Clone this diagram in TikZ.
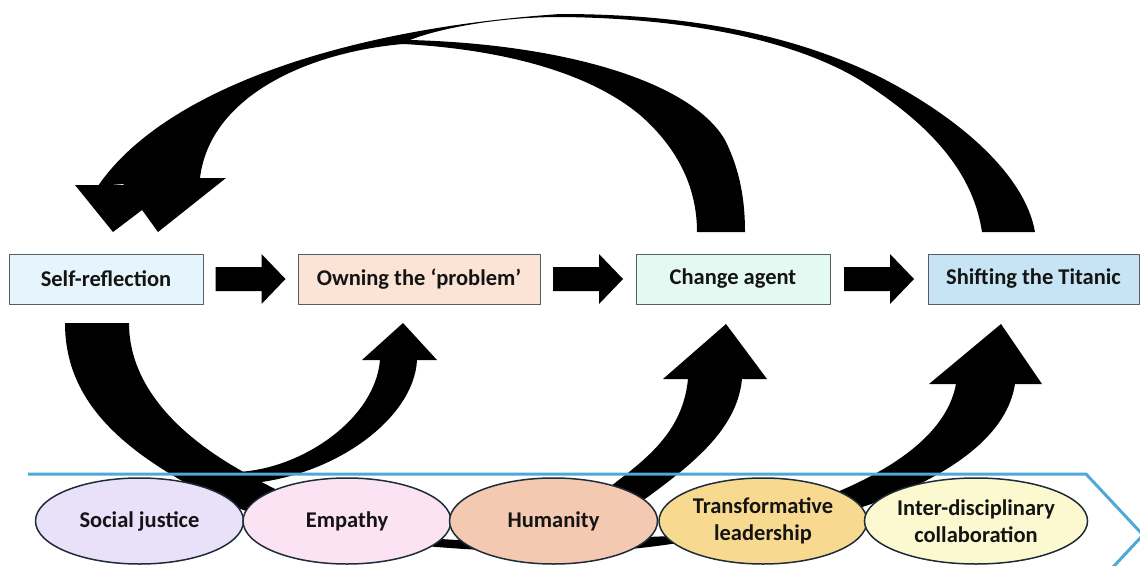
\documentclass[tikz,border=0pt]{standalone}
\usepackage{fontspec}
\setmainfont{Carlito}
\usetikzlibrary{shapes.geometric,calc}

\definecolor{cSelf}{HTML}{E6F4FB}
\definecolor{cOwn}{HTML}{FBE3D6}
\definecolor{cChange}{HTML}{E4F9F1}
\definecolor{cShift}{HTML}{C6E4F4}
\definecolor{cBoxLine}{HTML}{555D65}
\definecolor{cSJ}{HTML}{E9E1F9}
\definecolor{cEmp}{HTML}{FCE3F3}
\definecolor{cHum}{HTML}{F3C9B1}
\definecolor{cTrans}{HTML}{F7DA8F}
\definecolor{cInter}{HTML}{FCF8D0}
\definecolor{cOvalLine}{HTML}{1E2B38}
\definecolor{cBand}{HTML}{4DA9D6}
\definecolor{cText}{HTML}{141414}

\begin{document}
\begin{tikzpicture}[x=1pt,y=-1pt,line join=round,
  labelfont/.style={font=\bfseries\fontsize{22.5}{27}\selectfont, text=cText},
  stepbox/.style={labelfont, draw=cBoxLine, line width=1pt, minimum height=50pt, inner sep=0pt},
  oval/.style={labelfont, ellipse, draw=cOvalLine, line width=1.5pt, minimum width=208pt, minimum height=86pt, inner sep=0pt, align=center},
  band/.style={draw=cBand, line width=3pt},
  blockarrow/.pic={\fill[black] (-35,-12) -- (11,-12) -- (11,-25) -- (35,0) -- (11,25) -- (11,12) -- (-35,12) -- cycle;}
]
\useasboundingbox (0,0) rectangle (1140,565);

% ---------- feedback arrows over the top (back to self-reflection) ----------
% both bands and their shared body as one outline
\fill[black] (98,186)
  .. controls (160,95) and (330,30) .. (560,14)
  .. controls (700,14) and (800,38) .. (880,77)
  .. controls (960,118) and (1025,175) .. (1035,232)
  -- (982,232)
  .. controls (972,165) and (920,118) .. (860,80)
  .. controls (790,38) and (680,18) .. (560,17)
  .. controls (500,17) and (440,28) .. (410,40)
  .. controls (560,44) and (690,80) .. (725,140)
  .. controls (740,170) and (745,200) .. (745,232)
  -- (697,232)
  .. controls (697,190) and (680,150) .. (640,115)
  .. controls (580,65) and (480,48) .. (403,44)
  .. controls (310,52) and (210,95) .. (200,178)
  -- cycle;
\fill[black] (75,185) -- (113,232) -- (175,185) -- cycle;
\fill[black] (119,178) -- (158,232) -- (226,178) -- cycle;

% ---------- forward arrows underneath (from self-reflection) ----------
% shared tail sweeping down and along the bottom
\fill[black] (65,323)
  .. controls (65,400) and (120,450) .. (210,496)
  .. controls (300,540) and (450,552) .. (560,552)
  .. controls (620,552) and (660,546) .. (690,541)
  -- (690,535)
  .. controls (640,538) and (520,541) .. (460,540)
  .. controls (380,538) and (300,505) .. (240,470)
  .. controls (170,430) and (129,380) .. (129,323)
  -- cycle;
% rising arm to "Owning the problem"
\fill[black] (236,472) .. controls (300,470) and (375,420) .. (380,360)
  -- (362,360) -- (403,323) -- (437,360) -- (417,360)
  .. controls (414,420) and (330,480) .. (240,484) -- cycle;
% rising arm to "Change agent"
\fill[black] (550,540) .. controls (600,480) and (680,460) .. (688,379)
  -- (663,379) -- (726,324) -- (767,379) -- (742,379)
  .. controls (735,450) and (650,490) .. (580,548) -- cycle;
% rising arm to "Shifting the Titanic"
\fill[black] (690,535) .. controls (790,515) and (940,470) .. (956,384)
  -- (929,384) -- (1001,324) -- (1042,384) -- (1015,384)
  .. controls (1000,480) and (820,530) .. (690,543) -- cycle;

% ---------- chevron band behind the values ----------
\draw[band] (28,474) -- (1086,474) -- (1143,535) -- (1086,596);

% ---------- values ----------
\node[oval, fill=cSJ]    (sj)    at (139.5,521) {Social justice};
\node[oval, fill=cEmp]   (emp)   at (347,521)   {Empathy};
\node[oval, fill=cHum]   (hum)   at (553.5,521) {Humanity};
\node[oval, fill=cTrans] (trans) at (763,521)   {Transformative\\leadership};
\node[oval, fill=cInter] (inter) at (976,521)   {Inter-disciplinary\\collaboration};

% ---------- stages ----------
\node[stepbox, fill=cSelf,   minimum width=194pt] (self)   at (106,279)    {Self-reflection};
\node[stepbox, fill=cOwn,    minimum width=242pt] (own)    at (419,279)    {Owning the ‘problem’};
\node[stepbox, fill=cChange, minimum width=194pt] (change) at (733,279)    {Change agent};
\node[stepbox, fill=cShift,  minimum width=211pt] (shift)  at (1033.5,279) {Shifting the Titanic};

\pic at ($(self.east)!0.5!(own.west)$) {blockarrow};
\pic at ($(own.east)!0.5!(change.west)$) {blockarrow};
\pic at ($(change.east)!0.5!(shift.west)$) {blockarrow};
\end{tikzpicture}
\end{document}
